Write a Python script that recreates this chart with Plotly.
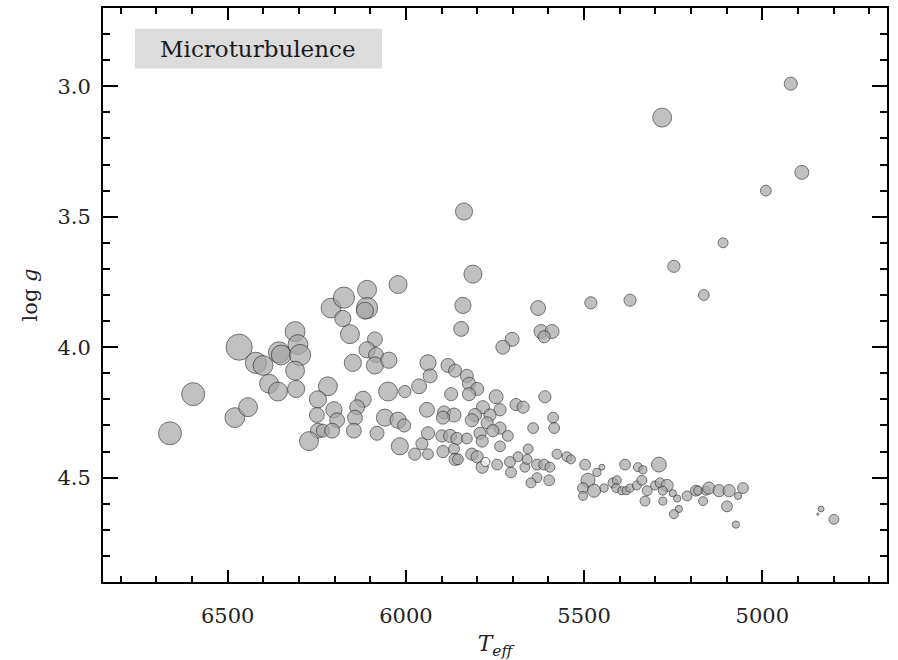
import plotly.graph_objects as go

# Effective temperature (K), surface gravity (log g) and microturbulence (km/s)
teff = [6662, 6597, 6480, 6443, 6468, 6421, 6401, 6384, 6359, 6356, 6350, 6311, 6303, 6297, 6311,
        6308, 6219, 6247, 6250, 6202, 6193, 6247, 6233, 6207, 6272, 6210, 6174, 6177, 6157, 6109,
        6109, 6115, 6022, 6087, 6109, 6084, 6087, 6048, 6149, 6120, 6137, 6143, 6146, 6081, 6050,
        6003, 5963, 6059, 6022, 6005, 6017, 5975, 5955,
        5837, 5812, 5840, 5845, 5702, 5728, 5629, 5621, 5590, 5612, 5938, 5932, 5882, 5862, 5829,
        5823, 5800, 5823, 5873, 5747, 5691, 5671, 5610, 5941, 5893, 5865, 5896, 5784, 5736, 5764,
        5806, 5815, 5772, 5587, 5584, 5643, 5736, 5756, 5792, 5714, 5938, 5899, 5876, 5857, 5829,
        5786, 5938, 5896, 5865, 5862, 5854, 5815, 5800, 5786, 5736, 5744, 5708, 5705, 5685, 5666,
        5657, 5660, 5632, 5612, 5596, 5632, 5649, 5598, 5576, 5548, 5537,
        5497, 5464, 5450, 5489, 5503, 5472, 5503, 5444, 5419, 5408, 5410, 5394, 5382, 5371, 5385,
        5349, 5335, 5290, 5352, 5338, 5323, 5301, 5287, 5267, 5279, 5251, 5239, 5211, 5186, 5180,
        5158, 5150, 5121, 5093, 5068, 5054, 5329, 5279, 5234, 5248, 5166, 5099, 5074, 4835, 4844,
        4799,
        4920, 5281, 4889, 4990, 5110, 5248, 5164, 5371, 5481]

logg = [4.33, 4.18, 4.27, 4.23, 4.00, 4.06, 4.07, 4.14, 4.17, 4.02, 4.03, 3.94, 3.99, 4.03, 4.09,
        4.16, 4.15, 4.20, 4.26, 4.24, 4.28, 4.32, 4.32, 4.32, 4.36, 3.85, 3.81, 3.89, 3.95, 3.78,
        3.85, 3.86, 3.76, 3.97, 4.01, 4.03, 4.07, 4.05, 4.06, 4.20, 4.23, 4.27, 4.32, 4.33, 4.17,
        4.17, 4.15, 4.27, 4.28, 4.30, 4.38, 4.41, 4.37,
        3.48, 3.72, 3.84, 3.93, 3.97, 4.00, 3.85, 3.94, 3.94, 3.96, 4.06, 4.11, 4.07, 4.09, 4.11,
        4.14, 4.16, 4.18, 4.18, 4.19, 4.22, 4.23, 4.19, 4.24, 4.25, 4.26, 4.27, 4.23, 4.24, 4.26,
        4.26, 4.28, 4.29, 4.27, 4.31, 4.31, 4.31, 4.32, 4.33, 4.34, 4.33, 4.34, 4.34, 4.35, 4.35,
        4.36, 4.41, 4.40, 4.39, 4.43, 4.43, 4.41, 4.42, 4.46, 4.38, 4.45, 4.44, 4.48, 4.42, 4.46,
        4.39, 4.43, 4.45, 4.45, 4.46, 4.50, 4.52, 4.51, 4.41, 4.42, 4.43,
        4.45, 4.48, 4.46, 4.51, 4.54, 4.55, 4.57, 4.54, 4.52, 4.51, 4.54, 4.55, 4.55, 4.54, 4.45,
        4.46, 4.47, 4.45, 4.53, 4.51, 4.55, 4.53, 4.52, 4.53, 4.55, 4.56, 4.58, 4.57, 4.55, 4.55,
        4.55, 4.54, 4.55, 4.55, 4.57, 4.54, 4.59, 4.59, 4.62, 4.64, 4.59, 4.61, 4.68, 4.62, 4.64,
        4.66,
        2.99, 3.12, 3.33, 3.40, 3.60, 3.69, 3.80, 3.82, 3.83]

vt = [2.55, 2.55, 2.20, 2.10, 2.90, 2.35, 2.20, 2.10, 2.10, 2.35, 2.20, 2.20, 2.20, 2.35, 2.10,
      1.90, 2.10, 1.90, 1.65, 1.80, 1.65, 1.65, 1.45, 1.65, 2.10, 2.20, 2.35, 1.80, 2.10, 2.10,
      2.35, 1.90, 2.00, 1.65, 1.80, 1.65, 1.90, 1.80, 1.90, 1.80, 1.65, 1.65, 1.65, 1.55, 2.10,
      1.35, 1.65, 1.90, 1.80, 1.45, 1.90, 1.35, 1.35,
      1.90, 2.00, 1.80, 1.65, 1.55, 1.55, 1.65, 1.55, 1.55, 1.35, 1.80, 1.55, 1.55, 1.45, 1.45,
      1.45, 1.45, 1.45, 1.45, 1.55, 1.35, 1.35, 1.35, 1.65, 1.45, 1.55, 1.45, 1.45, 1.35, 1.35,
      1.45, 1.45, 1.35, 1.20, 1.20, 1.20, 1.35, 1.35, 1.35, 1.20, 1.45, 1.35, 1.45, 1.35, 1.20,
      1.35, 1.20, 1.35, 1.20, 1.35, 1.20, 1.35, 1.35, 1.35, 1.20, 1.20, 1.20, 1.20, 1.10, 1.10,
      1.10, 1.10, 1.20, 1.20, 1.10, 1.10, 1.10, 1.20, 1.10, 1.10, 1.00,
      1.20, 0.90, 0.65, 1.55, 1.20, 1.45, 1.00, 0.90, 1.10, 1.00, 1.00, 0.90, 0.90, 0.90, 1.20,
      1.00, 0.90, 1.65, 1.00, 1.10, 1.10, 1.00, 1.10, 1.35, 1.00, 0.80, 0.80, 1.10, 1.20, 1.00,
      1.00, 1.35, 1.35, 1.35, 0.80, 1.20, 1.10, 0.90, 0.80, 1.00, 1.00, 1.20, 0.80, 0.65, 0.25,
      1.10,
      1.45, 2.10, 1.55, 1.20, 1.10, 1.35, 1.20, 1.35, 1.35]

# The Sun (reference star, drawn in white)
sun_teff = [5777]
sun_logg = [4.44]
sun_vt = [1.0]

x_ticks = [6500, 6000, 5500, 5000]
y_ticks = [3.0, 3.5, 4.0, 4.5]

PX_PER_KMS = 9.0
FONT = "DejaVu Serif"

fig = go.Figure()
fig.add_trace(go.Scatter(
    x=teff, y=logg, mode="markers",
    marker=dict(size=[v * PX_PER_KMS for v in vt], color="#a6a6a6",
                line=dict(color="#333333", width=1)),
    showlegend=False, hoverinfo="skip"))
fig.add_trace(go.Scatter(
    x=sun_teff, y=sun_logg, mode="markers",
    marker=dict(size=[v * PX_PER_KMS for v in sun_vt], color="#ffffff",
                line=dict(color="#333333", width=1)),
    showlegend=False, hoverinfo="skip"))

axis_common = dict(
    showline=True, linecolor="black", linewidth=2, mirror="ticks",
    ticks="inside", tickcolor="black", tickwidth=2,
    showgrid=False, zeroline=False,
    tickfont=dict(family=FONT, size=21, color="#222222"),
)

fig.update_xaxes(
    range=[6850, 4650], tickvals=x_ticks, ticklen=12,
    minor=dict(dtick=100, ticks="inside", ticklen=6, tickwidth=2, tickcolor="black", showgrid=False),
    ticklabelstandoff=14,
    title=dict(text="<i>T</i><sub><i>eff</i></sub>", font=dict(family=FONT, size=22, color="#222222"),
               standoff=10),
    **axis_common)
fig.update_yaxes(
    range=[4.9, 2.7], tickvals=y_ticks, tickformat=".1f", ticklen=15,
    minor=dict(dtick=0.1, ticks="inside", ticklen=7, tickwidth=2, tickcolor="black", showgrid=False),
    ticklabelstandoff=6,
    title=dict(text="log <i>g</i>", font=dict(family=FONT, size=21, color="#222222"), standoff=14),
    **axis_common)

fig.add_shape(type="rect", xref="paper", yref="paper",
              x0=0.0408, x1=0.3559, y0=0.8948, y1=0.9638,
              fillcolor="#dcdcdc", line=dict(width=0), layer="below")
fig.add_annotation(xref="paper", yref="paper", x=0.198, y=0.929,
                   text="Microturbulence", showarrow=False,
                   font=dict(family=FONT, size=23, color="#1a1a1a"),
                   xanchor="center", yanchor="middle")

fig.update_layout(
    width=898, height=660,
    margin=dict(l=103, r=11, t=6, b=74),
    plot_bgcolor="white", paper_bgcolor="white",
)

fig.write_html("out.html")
